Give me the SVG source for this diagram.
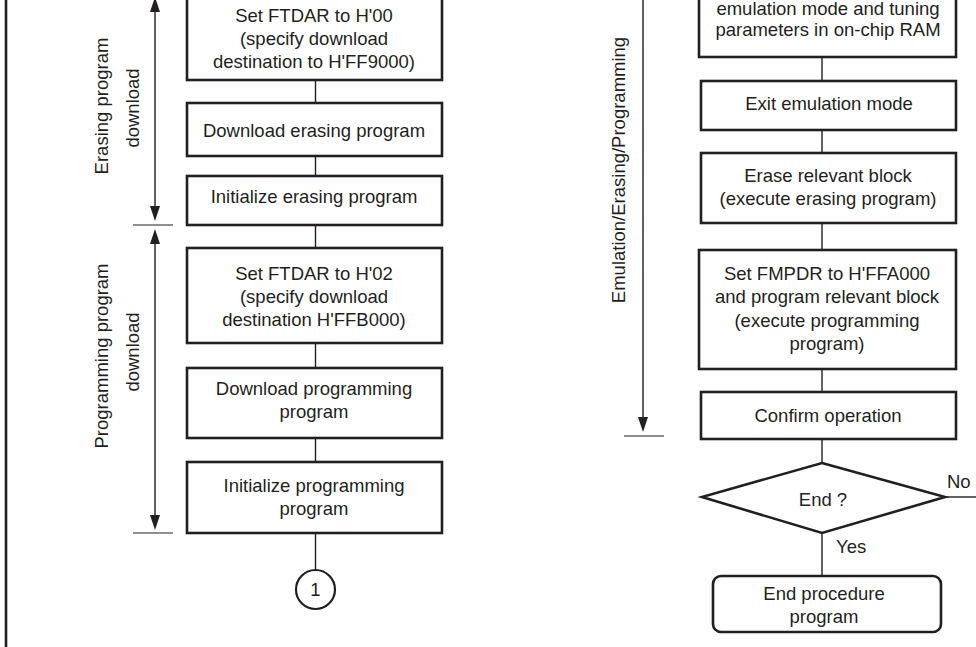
<svg xmlns="http://www.w3.org/2000/svg" width="976" height="647" viewBox="0 0 976 647">
<defs>
<style>
.box{fill:#fff;stroke:#231f20;stroke-width:2.6}
.ln{fill:none;stroke:#231f20;stroke-width:1.4}
.tk{fill:none;stroke:#231f20;stroke-width:1.2}
.ah{fill:#231f20}
text{font-family:"Liberation Sans",Arial,sans-serif;font-size:18.5px;fill:#231f20;text-anchor:middle}
.nl{text-anchor:start}
</style>
</defs>
<rect width="976" height="647" fill="#fff"/>
<line x1="6" y1="0" x2="6" y2="647" stroke="#231f20" stroke-width="2.6"/>

<g id="connectors">
<line class="ln" x1="315.5" y1="80" x2="315.5" y2="103"/>
<line class="ln" x1="315.5" y1="156" x2="315.5" y2="176"/>
<line class="ln" x1="315.5" y1="225" x2="315.5" y2="248"/>
<line class="ln" x1="315.5" y1="343" x2="315.5" y2="368"/>
<line class="ln" x1="315.5" y1="438" x2="315.5" y2="462"/>
<line class="ln" x1="315.5" y1="533" x2="315.5" y2="570"/>
<line class="ln" x1="822" y1="57" x2="822" y2="81"/>
<line class="ln" x1="822" y1="130" x2="822" y2="153"/>
<line class="ln" x1="822" y1="223" x2="822" y2="250"/>
<line class="ln" x1="822" y1="369" x2="822" y2="392"/>
<line class="ln" x1="822" y1="439" x2="822" y2="463"/>
<line class="ln" x1="822" y1="533" x2="822" y2="576"/>
<line class="ln" x1="945" y1="497" x2="976" y2="497"/>
<text class="nl" x="947" y="488">No</text>
<text class="nl" x="836" y="553">Yes</text>
</g>

<g id="range-erasing">
<line class="ln" x1="155" y1="8" x2="155" y2="212"/>
<polygon class="ah" points="155,-3 150,12 160,12"/>
<polygon class="ah" points="155,221 150,206 160,206"/>
<line class="tk" x1="133" y1="225" x2="173" y2="225"/>
<text transform="translate(108,106) rotate(-90)">Erasing program</text>
<text transform="translate(139,108) rotate(-90)">download</text>
</g>

<g id="range-programming">
<line class="ln" x1="155" y1="240" x2="155" y2="520"/>
<polygon class="ah" points="155,229 150,244 160,244"/>
<polygon class="ah" points="155,530 150,515 160,515"/>
<line class="tk" x1="133" y1="533" x2="173" y2="533"/>
<text transform="translate(108,356) rotate(-90)">Programming program</text>
<text transform="translate(139,352) rotate(-90)">download</text>
</g>

<g id="range-emulation">
<line class="ln" x1="643" y1="0" x2="643" y2="420"/>
<polygon class="ah" points="643,432 638,417 648,417"/>
<line class="tk" x1="624" y1="436" x2="664" y2="436"/>
<text transform="translate(625,170) rotate(-90)">Emulation/Erasing/Programming</text>
</g>

<g id="n-ftdar00">
<rect class="box" x="187" y="-10" width="255" height="90"/>
<text x="314" y="22">Set FTDAR to H'00</text>
<text x="314" y="45">(specify download</text>
<text x="314" y="68">destination to H'FF9000)</text>
</g>
<g id="n-dl-erase">
<rect class="box" x="187" y="103" width="255" height="53"/>
<text x="314" y="137">Download erasing program</text>
</g>
<g id="n-init-erase">
<rect class="box" x="187" y="176" width="255" height="49"/>
<text x="314" y="203">Initialize erasing program</text>
</g>
<g id="n-ftdar02">
<rect class="box" x="187" y="248" width="255" height="95"/>
<text x="314" y="280">Set FTDAR to H'02</text>
<text x="314" y="303">(specify download</text>
<text x="314" y="326">destination H'FFB000)</text>
</g>
<g id="n-dl-prog">
<rect class="box" x="187" y="368" width="255" height="70"/>
<text x="314" y="395">Download programming</text>
<text x="314" y="418">program</text>
</g>
<g id="n-init-prog">
<rect class="box" x="187" y="462" width="255" height="71"/>
<text x="314" y="492">Initialize programming</text>
<text x="314" y="515">program</text>
</g>
<g id="n-conn1">
<circle cx="315.5" cy="589.5" r="19.5" fill="#fff" stroke="#231f20" stroke-width="2.2"/>
<text x="315.5" y="596">1</text>
</g>

<g id="n-emul-set">
<rect class="box" x="699" y="-10" width="257" height="67"/>
<text x="828" y="15">emulation mode and tuning</text>
<text x="828" y="36">parameters in on-chip RAM</text>
</g>
<g id="n-exit-emul">
<rect class="box" x="701" y="81" width="255" height="49"/>
<text x="829" y="110">Exit emulation mode</text>
</g>
<g id="n-erase-block">
<rect class="box" x="701" y="153" width="255" height="70"/>
<text x="828" y="182">Erase relevant block</text>
<text x="828" y="205">(execute erasing program)</text>
</g>
<g id="n-fmpdr">
<rect class="box" x="699" y="250" width="257" height="119"/>
<text x="827" y="280">Set FMPDR to H'FFA000</text>
<text x="827" y="303">and program relevant block</text>
<text x="827" y="327">(execute programming</text>
<text x="827" y="350">program)</text>
</g>
<g id="n-confirm">
<rect class="box" x="701" y="392" width="255" height="47"/>
<text x="828" y="422">Confirm operation</text>
</g>
<g id="n-end-q">
<polygon class="box" points="822,463 945,497 822,533 702,497"/>
<text x="823" y="506">End ?</text>
</g>
<g id="n-end">
<rect class="box" x="713" y="576" width="228" height="56" rx="8" ry="8"/>
<text x="824" y="600">End procedure</text>
<text x="824" y="623">program</text>
</g>
</svg>
